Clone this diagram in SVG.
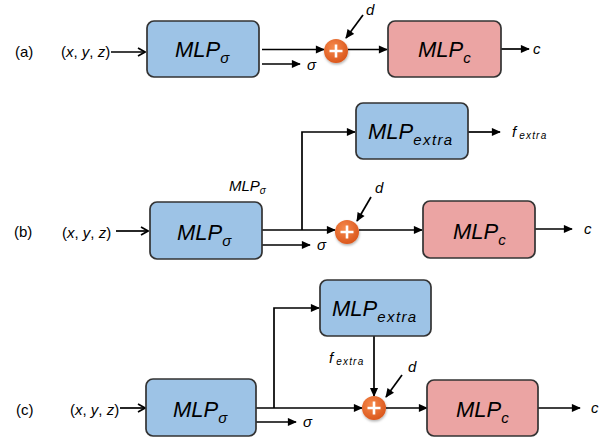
<svg xmlns="http://www.w3.org/2000/svg" width="605" height="440" viewBox="0 0 605 440">
  <defs>
    <marker id="tri" viewBox="0 0 10 10" refX="9" refY="5" markerWidth="10" markerHeight="9" markerUnits="userSpaceOnUse" orient="auto">
      <path d="M0,0.5 L10,5 L0,9.5 z" fill="#000"/>
    </marker>
    <marker id="vee" viewBox="0 0 10 10" refX="9" refY="5" markerWidth="10" markerHeight="10" markerUnits="userSpaceOnUse" orient="auto">
      <path d="M2,1 L9,5 L2,9" fill="none" stroke="#000" stroke-width="1.7"/>
    </marker>
    <radialGradient id="orange" cx="0.4" cy="0.35" r="0.7">
      <stop offset="0" stop-color="#F68A4C"/>
      <stop offset="1" stop-color="#D9541A"/>
    </radialGradient>
    <filter id="shadow" x="-30%" y="-30%" width="160%" height="160%">
      <feDropShadow dx="0.5" dy="1.5" stdDeviation="1" flood-color="#000" flood-opacity="0.3"/>
    </filter>
  </defs>
  <style>
    .blue { fill: #9DC3E6; stroke: #333; stroke-width: 1.7; }
    .pink { fill: #EBA4A3; stroke: #333; stroke-width: 1.7; }
    .ln { fill: none; stroke: #000; stroke-width: 1.7; }
    .arr { marker-end: url(#tri); }
    .big { font-family: "Liberation Sans", Arial, sans-serif; font-style: italic; font-size: 22px; fill: #000; }
    .sub { font-size: 15px; }
    .lbl { font-family: "Liberation Sans", Arial, sans-serif; font-size: 15px; fill: #000; }
    .it { font-family: "Liberation Sans", Arial, sans-serif; font-style: italic; font-size: 15px; fill: #000; }
    .xyz { font-family: "Liberation Sans", Arial, sans-serif; font-size: 15px; fill: #000; }
    .xyz tspan { font-style: italic; }
    .plus { stroke: #fff; stroke-width: 2.6; }
    .add { fill: url(#orange); filter: url(#shadow); }
  </style>

  <!-- connectors -->
  <g id="connectors">
    <!-- (a) -->
    <line class="ln" x1="111" y1="52" x2="145" y2="52" marker-end="url(#vee)"/>
    <line class="ln arr" x1="262" y1="49.5" x2="324" y2="49.5"/>
    <line class="ln arr" x1="262" y1="64" x2="300" y2="64"/>
    <line class="ln arr" x1="363" y1="15" x2="346" y2="38"/>
    <line class="ln arr" x1="348" y1="49.5" x2="387" y2="49.5"/>
    <line class="ln arr" x1="501" y1="49" x2="529" y2="49"/>
    <!-- (b) -->
    <line class="ln" x1="116" y1="231" x2="148" y2="231" marker-end="url(#vee)"/>
    <line class="ln arr" x1="262" y1="230" x2="335" y2="230"/>
    <polyline class="ln arr" points="302,230 302,132 355,132"/>
    <line class="ln arr" x1="262" y1="245" x2="310" y2="245"/>
    <line class="ln arr" x1="468" y1="132" x2="500" y2="132"/>
    <line class="ln arr" x1="371" y1="197" x2="357" y2="221"/>
    <line class="ln arr" x1="359" y1="230" x2="422" y2="230"/>
    <line class="ln arr" x1="535" y1="229" x2="572" y2="229"/>
    <!-- (c) -->
    <line class="ln" x1="120" y1="408" x2="145" y2="408" marker-end="url(#vee)"/>
    <line class="ln arr" x1="256" y1="408" x2="362" y2="408"/>
    <polyline class="ln arr" points="274,408 274,308 319,308"/>
    <line class="ln arr" x1="256" y1="422" x2="296" y2="422"/>
    <line class="ln arr" x1="374" y1="336" x2="374" y2="396"/>
    <line class="ln arr" x1="402" y1="375" x2="386" y2="397"/>
    <line class="ln arr" x1="386" y1="408" x2="427" y2="408"/>
    <line class="ln arr" x1="538" y1="408" x2="580" y2="408"/>
  </g>

  <!-- panel (a) -->
  <text class="lbl" x="15" y="57">(a)</text>
  <text class="xyz" x="61" y="57">(<tspan>x</tspan>, <tspan>y</tspan>, <tspan>z</tspan>)</text>
  <g id="a-mlp-sigma">
    <rect class="blue" x="147" y="21" width="112" height="56" rx="7"/>
    <text class="big" x="175" y="57">MLP<tspan class="sub" dy="6">σ</tspan></text>
  </g>
  <text class="it" x="307" y="70">σ</text>
  <g id="a-add">
    <circle class="add" cx="336" cy="51" r="12"/>
    <path class="plus" d="M329.5,51 H342.5 M336,44.5 V57.5"/>
  </g>
  <text class="it" x="366" y="15">d</text>
  <g id="a-mlp-c">
    <rect class="pink" x="388" y="21" width="113" height="56" rx="7"/>
    <text class="big" x="418" y="57">MLP<tspan class="sub" dy="6">c</tspan></text>
  </g>
  <text class="it" x="533" y="54">c</text>

  <!-- panel (b) -->
  <text class="lbl" x="14" y="237">(b)</text>
  <text class="xyz" x="62" y="238">(<tspan>x</tspan>, <tspan>y</tspan>, <tspan>z</tspan>)</text>
  <text class="it" x="229" y="191" font-size="13">MLP<tspan font-size="10" dy="3">σ</tspan></text>
  <g id="b-mlp-sigma">
    <rect class="blue" x="150" y="202" width="112" height="57" rx="7"/>
    <text class="big" x="177" y="240">MLP<tspan class="sub" dy="6">σ</tspan></text>
  </g>
  <text class="it" x="317" y="250">σ</text>
  <g id="b-mlp-extra">
    <rect class="blue" x="356" y="103" width="112" height="56" rx="7"/>
    <text class="big" x="368" y="139">MLP<tspan class="sub" dy="6" letter-spacing="1.4">extra</tspan></text>
  </g>
  <text class="it" x="512" y="137">f<tspan font-size="10" dx="3" dy="2" letter-spacing="1.2">extra</tspan></text>
  <g id="b-add">
    <circle class="add" cx="347" cy="232" r="12"/>
    <path class="plus" d="M340.5,232 H353.5 M347,225.5 V238.5"/>
  </g>
  <text class="it" x="375" y="193">d</text>
  <g id="b-mlp-c">
    <rect class="pink" x="423" y="201" width="112" height="57" rx="7"/>
    <text class="big" x="453" y="239">MLP<tspan class="sub" dy="6">c</tspan></text>
  </g>
  <text class="it" x="584" y="234">c</text>

  <!-- panel (c) -->
  <text class="lbl" x="16" y="415">(c)</text>
  <text class="xyz" x="70" y="415">(<tspan>x</tspan>, <tspan>y</tspan>, <tspan>z</tspan>)</text>
  <g id="c-mlp-sigma">
    <rect class="blue" x="146" y="379" width="110" height="57" rx="7"/>
    <text class="big" x="173" y="417">MLP<tspan class="sub" dy="6">σ</tspan></text>
  </g>
  <text class="it" x="303" y="427">σ</text>
  <g id="c-mlp-extra">
    <rect class="blue" x="320" y="280" width="111" height="56" rx="7"/>
    <text class="big" x="332" y="316">MLP<tspan class="sub" dy="6" letter-spacing="1.4">extra</tspan></text>
  </g>
  <text class="it" x="329" y="363">f<tspan font-size="10" dx="3" dy="2" letter-spacing="1.2">extra</tspan></text>
  <g id="c-add">
    <circle class="add" cx="374" cy="408" r="12"/>
    <path class="plus" d="M367.5,408 H380.5 M374,401.5 V414.5"/>
  </g>
  <text class="it" x="408" y="372">d</text>
  <g id="c-mlp-c">
    <rect class="pink" x="427" y="380" width="111" height="56" rx="7"/>
    <text class="big" x="456" y="417">MLP<tspan class="sub" dy="6">c</tspan></text>
  </g>
  <text class="it" x="591" y="413">c</text>
</svg>
